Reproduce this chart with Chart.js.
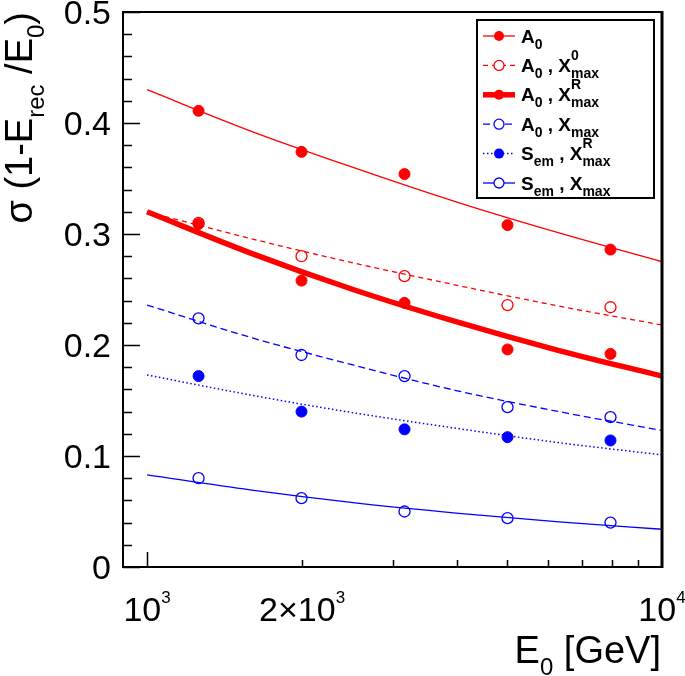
<!DOCTYPE html>
<html>
<head>
<meta charset="utf-8">
<script src="https://cdn.jsdelivr.net/npm/chart.js@4.4.1/dist/chart.umd.min.js"></script>
<style>
  html, body { margin: 0; padding: 0; background: #fff; }
  #wrap { width: 685px; height: 676px; }
</style>
</head>
<body>
<div id="wrap"><canvas id="c" width="685" height="676"></canvas></div>
<script>
// energies of the simulated points [GeV] and where the fit curves were read
const energies = [1259, 1995, 3162, 5012, 7943];
const fitEnergies = [1000, 1585, 2512, 3981, 6310, 10000];

// sigma(1 - Erec/E0) per method
const a0 = [0.411, 0.374, 0.354, 0.308, 0.286];
const a0X0 = [0.310, 0.280, 0.262, 0.236, 0.234];
const a0XR = [0.309, 0.258, 0.238, 0.196, 0.192];
const a0Xmax = [0.224, 0.191, 0.172, 0.144, 0.135];
const semXR = [0.172, 0.140, 0.124, 0.117, 0.114];
const semXmax = [0.080, 0.062, 0.050, 0.044, 0.040];

// fitted curves
const a0Fit = [0.430, 0.393, 0.360, 0.329, 0.301, 0.275];
const a0X0Fit = [0.320, 0.296, 0.274, 0.254, 0.235, 0.218];
const a0XRFit = [0.320, 0.283, 0.250, 0.221, 0.195, 0.172];
const a0XmaxFit = [0.236, 0.207, 0.182, 0.159, 0.140, 0.123];
const semXRFit = [0.173, 0.155, 0.139, 0.125, 0.112, 0.101];
const semXmaxFit = [0.083, 0.0695, 0.058, 0.0486, 0.0406, 0.034];

// axis ticks
const yTickValues = [0, 0.1, 0.2, 0.3, 0.4, 0.5];
const yTickLabels = ['0', '0.1', '0.2', '0.3', '0.4', '0.5'];
const xTickValues = [1000, 2000, 10000];
const xTickLabels = [['10', '3'], ['2\u00d710', '3'], ['10', '4']];
const xMinorValues = [2000, 3000, 4000, 5000, 6000, 7000, 8000, 9000];

const RED = '#ff0000';
const BLUE = '#0000ff';
const FONT = '"Liberation Sans", Arial, Helvetica, sans-serif';

function font(size, bold) {
    return (bold ? 'bold ' : '') + size + 'px ' + FONT;
}

const series = [
    { pts: a0, fit: a0Fit, color: RED, filled: true, width: 1.3, dash: [],
      label: [{ t: 'A' }, { t: '0', k: 'sub' }] },
    { pts: a0X0, fit: a0X0Fit, color: RED, filled: false, width: 1.3, dash: [5, 4],
      label: [{ t: 'A' }, { t: '0', k: 'sub' }, { t: ' , ' }, { t: 'X' }, { t: ['0', 'max'], k: 'ss' }] },
    { pts: a0XR, fit: a0XRFit, color: RED, filled: true, width: 5.5, dash: [],
      label: [{ t: 'A' }, { t: '0', k: 'sub' }, { t: ' , ' }, { t: 'X' }, { t: ['R', 'max'], k: 'ss' }] },
    { pts: a0Xmax, fit: a0XmaxFit, color: BLUE, filled: false, width: 1.3, dash: [7, 4],
      label: [{ t: 'A' }, { t: '0', k: 'sub' }, { t: ' , ' }, { t: 'X' }, { t: 'max', k: 'sub' }] },
    { pts: semXR, fit: semXRFit, color: BLUE, filled: true, width: 1.5, dash: [1.5, 2.5],
      label: [{ t: 'S' }, { t: 'em', k: 'sub' }, { t: ' , ' }, { t: 'X' }, { t: ['R', 'max'], k: 'ss' }] },
    { pts: semXmax, fit: semXmaxFit, color: BLUE, filled: false, width: 1.3, dash: [],
      label: [{ t: 'S' }, { t: 'em', k: 'sub' }, { t: ' , ' }, { t: 'X' }, { t: 'max', k: 'sub' }] },
];

const datasets = [];
series.forEach(s => {
    datasets.push({
        data: energies.map((e, i) => ({ x: e, y: s.pts[i] })),
        showLine: false,
        pointStyle: 'circle',
        pointRadius: 5.5,
        pointBorderWidth: s.filled ? 1 : 1.3,
        pointBorderColor: s.color,
        pointBackgroundColor: s.filled ? s.color : 'rgba(0,0,0,0)',
    });
    datasets.push({
        data: fitEnergies.map((e, i) => ({ x: e, y: s.fit[i] })),
        borderColor: s.color,
        borderWidth: s.width,
        borderDash: s.dash,
        pointRadius: 0,
        cubicInterpolationMode: 'monotone',
        fill: false,
    });
});

// rich text with sub/superscripts, drawn on the canvas
function richWidth(ctx, parts, o) {
    let w = 0;
    for (const p of parts) {
        if (!p.k) { ctx.font = font(o.size, o.bold); w += ctx.measureText(p.t).width; }
        else if (p.k === 'ss') {
            ctx.font = font(o.small, o.bold);
            w += Math.max(ctx.measureText(p.t[0]).width, ctx.measureText(p.t[1]).width);
        } else { ctx.font = font(o.small, o.bold); w += ctx.measureText(p.t).width; }
    }
    return w;
}

function drawRich(ctx, parts, x, y, o, align) {
    const w = richWidth(ctx, parts, o);
    let cx = align === 'center' ? x - w / 2 : (align === 'right' ? x - w : x);
    ctx.textAlign = 'left';
    ctx.textBaseline = 'alphabetic';
    for (const p of parts) {
        if (!p.k) {
            ctx.font = font(o.size, o.bold);
            ctx.fillText(p.t, cx, y);
            cx += ctx.measureText(p.t).width;
        } else if (p.k === 'ss') {
            ctx.font = font(o.small, o.bold);
            ctx.fillText(p.t[0], cx, y - o.up);
            ctx.fillText(p.t[1], cx, y + o.down);
            cx += Math.max(ctx.measureText(p.t[0]).width, ctx.measureText(p.t[1]).width);
        } else {
            ctx.font = font(o.small, o.bold);
            ctx.fillText(p.t, cx, p.k === 'sup' ? y - o.up : y + o.down);
            cx += ctx.measureText(p.t).width;
        }
    }
}

const frame = {
    id: 'frame',
    afterDraw(chart) {
        const ctx = chart.ctx;
        const xs = chart.scales.x, ys = chart.scales.y;
        const L = chart.chartArea.left, R = chart.chartArea.right;
        const T = chart.chartArea.top, B = chart.chartArea.bottom;
        ctx.save();
        ctx.strokeStyle = '#000';
        ctx.fillStyle = '#000';
        ctx.setLineDash([]);

        // frame
        ctx.lineWidth = 2;
        ctx.beginPath();
        ctx.moveTo(L, T); ctx.lineTo(R, T);
        ctx.moveTo(L, T - 1); ctx.lineTo(L, B + 1);
        ctx.moveTo(L - 1, B); ctx.lineTo(R + 1, B);
        ctx.stroke();
        ctx.lineWidth = 3;
        ctx.beginPath();
        ctx.moveTo(R, T - 1); ctx.lineTo(R, B + 1);
        ctx.stroke();

        // y ticks
        ctx.lineWidth = 1.5;
        ctx.beginPath();
        for (let v = 0; v <= 0.5001; v += 0.02) {
            const py = Math.round(ys.getPixelForValue(v)) + 0.5;
            const major = Math.abs(v * 10 - Math.round(v * 10)) < 1e-6;
            ctx.moveTo(L, py); ctx.lineTo(L + (major ? 17 : 9), py);
        }
        // x ticks
        const x1 = Math.round(xs.getPixelForValue(1000)) + 0.5;
        ctx.moveTo(x1, B); ctx.lineTo(x1, B - 15);
        xMinorValues.forEach(v => {
            const px = Math.round(xs.getPixelForValue(v)) + 0.5;
            ctx.moveTo(px, B); ctx.lineTo(px, B - 7);
        });
        ctx.stroke();

        // y tick labels
        ctx.font = font(34, false);
        ctx.textAlign = 'right';
        ctx.textBaseline = 'alphabetic';
        yTickValues.forEach((v, i) => {
            ctx.fillText(yTickLabels[i], 111, ys.getPixelForValue(v) + 12);
        });

        // x tick labels
        const xo = { size: 34, small: 17, up: 18, down: 8, bold: false };
        xTickValues.forEach((v, i) => {
            drawRich(ctx, [{ t: xTickLabels[i][0] }, { t: xTickLabels[i][1], k: 'sup' }],
                xs.getPixelForValue(v), 621, xo, 'center');
        });

        // axis titles
        const to = { size: 38, small: 24, up: 16, down: 12, bold: false };
        drawRich(ctx, [{ t: 'E' }, { t: '0', k: 'sub' }, { t: ' [GeV]' }], 661, 663, to, 'right');

        ctx.save();
        ctx.translate(32, 12);
        ctx.rotate(-Math.PI / 2);
        drawRich(ctx, [{ t: '\u03c3 (1-E' }, { t: 'rec', k: 'sub' }, { t: ' /E' }, { t: '0', k: 'sub' }, { t: ')' }],
            0, 0, to, 'right');
        ctx.restore();

        // legend
        ctx.fillStyle = '#fff';
        ctx.fillRect(477, 20, 177, 178);
        ctx.lineWidth = 2;
        ctx.strokeStyle = '#000';
        ctx.strokeRect(477, 20, 177, 178);
        const lo = { size: 19, small: 14, up: 12, down: 6, bold: true };
        series.forEach((s, i) => {
            const base = 42.5 + i * 29.4;
            const cy = base - 6.5;
            ctx.strokeStyle = s.color;
            ctx.lineWidth = s.width;
            ctx.setLineDash(s.dash);
            ctx.beginPath();
            ctx.moveTo(483, cy); ctx.lineTo(515, cy);
            ctx.stroke();
            ctx.setLineDash([]);
            ctx.beginPath();
            ctx.arc(499, cy, 5, 0, Math.PI * 2);
            if (s.filled) { ctx.fillStyle = s.color; ctx.fill(); }
            else {
                ctx.fillStyle = '#fff'; ctx.fill();
                ctx.lineWidth = 1.3; ctx.stroke();
            }
            ctx.fillStyle = '#000';
            drawRich(ctx, s.label, 521, base, lo, 'left');
        });
        ctx.restore();
    }
};

new Chart(document.getElementById('c'), {
    type: 'line',
    data: { datasets },
    options: {
        responsive: false,
        animation: false,
        devicePixelRatio: 1,
        layout: { padding: { left: 123, top: 12, right: 23, bottom: 109 } },
        plugins: { legend: { display: false }, tooltip: { enabled: false } },
        scales: {
            x: { type: 'logarithmic', min: 898, max: 10000, display: false },
            y: { type: 'linear', min: 0, max: 0.5, display: false },
        },
    },
    plugins: [frame],
});
</script>
</body>
</html>
